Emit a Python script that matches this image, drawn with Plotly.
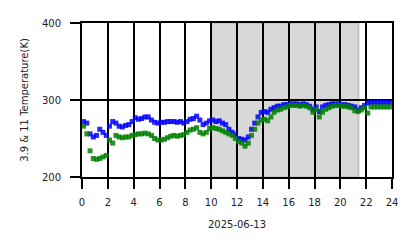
import plotly.graph_objects as go

hours = [0.125 + 0.25 * i for i in range(96)]

t39 = [272, 270, 256, 252, 254, 262, 258, 254, 266, 272, 270, 266,
       265, 267, 268, 272, 277, 275, 276, 278, 278, 274, 271, 270,
       271, 271, 272, 272, 272, 271, 272, 270, 272, 275, 276, 279,
       274, 268, 270, 273, 274, 272, 273, 270, 268, 262, 258, 255,
       250, 249, 248, 252, 262, 270, 278, 284, 285, 284, 288, 290,
       292, 292, 294, 294, 295, 295, 295, 294, 295, 294, 292, 288,
       291, 285, 291, 293, 294, 295, 295, 295, 294, 294, 293, 292,
       291, 287, 290, 293, 296, 297, 297, 297, 297, 297, 297, 297]

t11 = [266, 256, 234, 224, 223, 224, 226, 228, 248, 244, 254, 252,
       251, 252, 252, 254, 255, 256, 256, 257, 256, 254, 250, 248,
       248, 249, 251, 253, 254, 253, 254, 255, 258, 261, 262, 264,
       258, 256, 258, 263, 264, 263, 262, 260, 258, 256, 254, 250,
       246, 244, 240, 244, 254, 262, 270, 274, 275, 273, 278, 284,
       287, 288, 290, 291, 293, 293, 293, 292, 293, 292, 290, 284,
       288, 278, 284, 288, 290, 292, 293, 293, 292, 292, 291, 290,
       286, 285, 287, 290, 283, 291, 291, 291, 291, 291, 291, 291]

shade_start, shade_end = 10, 21.4
x_ticks = list(range(0, 25, 2))
y_ticks = [200, 300, 400]

fig = go.Figure()
fig.add_shape(type="rect", xref="x", yref="y", x0=shade_start, x1=shade_end,
              y0=200, y1=400, fillcolor="#d8d8d8",
              line=dict(color="#c4c4c4", width=2), layer="below")
fig.add_trace(go.Scatter(x=hours, y=t39, mode="markers",
                         marker=dict(symbol="square", size=5, color="#0000ff", opacity=0.85),
                         showlegend=False))
fig.add_trace(go.Scatter(x=hours, y=t11, mode="markers",
                         marker=dict(symbol="square", size=5, color="#008000", opacity=0.85),
                         showlegend=False))

font = dict(family="DejaVu Sans", size=10, color="#222222")
fig.update_layout(
    width=418, height=248,
    margin=dict(l=82, r=26, t=23, b=71),
    paper_bgcolor="white", plot_bgcolor="white",
    font=font,
    xaxis=dict(range=[0, 24], tickvals=x_ticks, ticktext=[str(v) for v in x_ticks],
               showgrid=True, gridcolor="black", gridwidth=2,
               showline=True, linecolor="black", linewidth=2, mirror=True,
               ticks="outside", ticklen=10, tickwidth=2, tickcolor="black",
               ticklabelstandoff=5,
               zeroline=False, title=dict(text="2025-06-13", font=font, standoff=14)),
    yaxis=dict(range=[200, 400], tickvals=y_ticks,
               showgrid=True, gridcolor="black", gridwidth=2,
               showline=True, linecolor="black", linewidth=2, mirror=True,
               ticks="outside", ticklen=10, tickwidth=2, tickcolor="black",
               ticklabelstandoff=7,
               zeroline=False, title=dict(text="3.9 & 11 Temperature(K)", font=font, standoff=11)),
)
fig.write_html("out.html")
